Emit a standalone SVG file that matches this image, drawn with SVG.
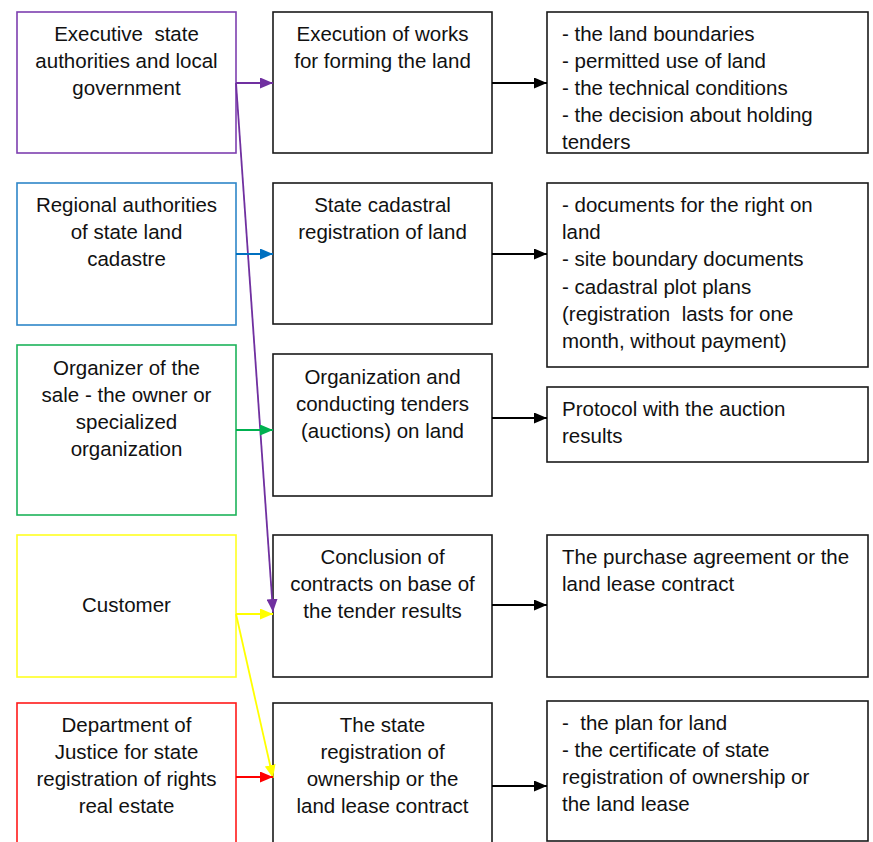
<svg xmlns="http://www.w3.org/2000/svg" width="873" height="842" viewBox="0 0 873 842" xml:space="preserve">
  <style>
    .box { fill: #ffffff; stroke-width: 1.6; }
    .mid, .out { stroke: #1a1a1a; }
    text { font-family: "Liberation Sans", Arial, sans-serif; font-size: 20.5px; fill: #111111; white-space: pre; }
    .c { text-anchor: middle; }
    .l { text-anchor: start; }
    .conn { fill: none; stroke-width: 1.8; }
  </style>
  <defs>
    <marker id="ah-black" viewBox="0 0 13 11" refX="13" refY="5.5" markerWidth="13" markerHeight="11" markerUnits="userSpaceOnUse" orient="auto">
      <path d="M0,0 L13,5.5 L0,11 Z" fill="#000000"/>
    </marker>
    <marker id="ah-purple" viewBox="0 0 13 11" refX="13" refY="5.5" markerWidth="13" markerHeight="11" markerUnits="userSpaceOnUse" orient="auto">
      <path d="M0,0 L13,5.5 L0,11 Z" fill="#7030A0"/>
    </marker>
    <marker id="ah-blue" viewBox="0 0 13 11" refX="13" refY="5.5" markerWidth="13" markerHeight="11" markerUnits="userSpaceOnUse" orient="auto">
      <path d="M0,0 L13,5.5 L0,11 Z" fill="#0070C0"/>
    </marker>
    <marker id="ah-green" viewBox="0 0 13 11" refX="13" refY="5.5" markerWidth="13" markerHeight="11" markerUnits="userSpaceOnUse" orient="auto">
      <path d="M0,0 L13,5.5 L0,11 Z" fill="#00B050"/>
    </marker>
    <marker id="ah-yellow" viewBox="0 0 13 11" refX="13" refY="5.5" markerWidth="13" markerHeight="11" markerUnits="userSpaceOnUse" orient="auto">
      <path d="M0,0 L13,5.5 L0,11 Z" fill="#FFFF00"/>
    </marker>
    <marker id="ah-red" viewBox="0 0 13 11" refX="13" refY="5.5" markerWidth="13" markerHeight="11" markerUnits="userSpaceOnUse" orient="auto">
      <path d="M0,0 L13,5.5 L0,11 Z" fill="#FF0000"/>
    </marker>
  </defs>

  <rect width="873" height="842" fill="#ffffff"/>

  <!-- Participants (left column) -->
  <g id="executive-authorities">
    <rect class="box" x="17" y="12" width="219" height="141" stroke="#7D3FB0"/>
    <text class="c" x="126.5" y="41">Executive  state</text>
    <text class="c" x="126.5" y="68">authorities and local</text>
    <text class="c" x="126.5" y="95">government</text>
  </g>
  <g id="regional-cadastre">
    <rect class="box" x="17" y="183" width="219" height="142" stroke="#2E86C8"/>
    <text class="c" x="126.5" y="212">Regional authorities</text>
    <text class="c" x="126.5" y="239">of state land</text>
    <text class="c" x="126.5" y="266">cadastre</text>
  </g>
  <g id="sale-organizer">
    <rect class="box" x="17" y="345" width="219" height="170" stroke="#1DB35A"/>
    <text class="c" x="126.5" y="375">Organizer of the</text>
    <text class="c" x="126.5" y="402">sale - the owner or</text>
    <text class="c" x="126.5" y="429">specialized</text>
    <text class="c" x="126.5" y="456">organization</text>
  </g>
  <g id="customer">
    <rect class="box" x="17" y="535" width="219" height="142" stroke="#FFFF22"/>
    <text class="c" x="126.5" y="612">Customer</text>
  </g>
  <g id="justice-department">
    <rect class="box" x="17" y="703" width="219" height="150" stroke="#FF1A1A"/>
    <text class="c" x="126.5" y="732">Department of</text>
    <text class="c" x="126.5" y="759">Justice for state</text>
    <text class="c" x="126.5" y="786">registration of rights</text>
    <text class="c" x="126.5" y="813">real estate</text>
  </g>

  <!-- Procedure steps (middle column) -->
  <g id="forming-works">
    <rect class="box mid" x="273" y="12" width="219" height="141"/>
    <text class="c" x="382.5" y="41">Execution of works</text>
    <text class="c" x="382.5" y="68">for forming the land</text>
  </g>
  <g id="cadastral-registration">
    <rect class="box mid" x="273" y="183" width="219" height="141"/>
    <text class="c" x="382.5" y="212">State cadastral</text>
    <text class="c" x="382.5" y="239">registration of land</text>
  </g>
  <g id="tenders">
    <rect class="box mid" x="273" y="354" width="219" height="142"/>
    <text class="c" x="382.5" y="384">Organization and</text>
    <text class="c" x="382.5" y="411">conducting tenders</text>
    <text class="c" x="382.5" y="438">(auctions) on land</text>
  </g>
  <g id="contracts">
    <rect class="box mid" x="273" y="535" width="219" height="142"/>
    <text class="c" x="382.5" y="564">Conclusion of</text>
    <text class="c" x="382.5" y="591">contracts on base of</text>
    <text class="c" x="382.5" y="618">the tender results</text>
  </g>
  <g id="state-registration">
    <rect class="box mid" x="273" y="703" width="219" height="150"/>
    <text class="c" x="382.5" y="732">The state</text>
    <text class="c" x="382.5" y="759">registration of</text>
    <text class="c" x="382.5" y="786">ownership or the</text>
    <text class="c" x="382.5" y="813">land lease contract</text>
  </g>

  <!-- Results (right column) -->
  <g id="forming-results">
    <rect class="box out" x="547" y="12" width="321" height="141"/>
    <text class="l" x="562" y="41">- the land boundaries</text>
    <text class="l" x="562" y="68">- permitted use of land</text>
    <text class="l" x="562" y="95">- the technical conditions</text>
    <text class="l" x="562" y="122">- the decision about holding</text>
    <text class="l" x="562" y="149">tenders</text>
  </g>
  <g id="cadastral-results">
    <rect class="box out" x="547" y="183" width="321" height="184"/>
    <text class="l" x="562" y="212">- documents for the right on</text>
    <text class="l" x="562" y="239">land</text>
    <text class="l" x="562" y="266">- site boundary documents</text>
    <text class="l" x="562" y="294">- cadastral plot plans</text>
    <text class="l" x="562" y="321">(registration  lasts for one</text>
    <text class="l" x="562" y="348">month, without payment)</text>
  </g>
  <g id="tender-results">
    <rect class="box out" x="547" y="387" width="321" height="75"/>
    <text class="l" x="562" y="416">Protocol with the auction</text>
    <text class="l" x="562" y="443">results</text>
  </g>
  <g id="contract-results">
    <rect class="box out" x="547" y="535" width="321" height="142"/>
    <text class="l" x="562" y="564">The purchase agreement or the</text>
    <text class="l" x="562" y="591">land lease contract</text>
  </g>
  <g id="registration-results">
    <rect class="box out" x="547" y="701" width="321" height="140"/>
    <text class="l" x="562" y="730">-  the plan for land</text>
    <text class="l" x="562" y="757">- the certificate of state</text>
    <text class="l" x="562" y="784">registration of ownership or</text>
    <text class="l" x="562" y="811">the land lease</text>
  </g>

  <!-- Connectors -->
  <g id="connectors">
    <line class="conn" x1="236" y1="83" x2="273" y2="83" stroke="#7030A0" marker-end="url(#ah-purple)"/>
    <line class="conn" x1="236" y1="83" x2="273" y2="612" stroke="#7030A0" marker-end="url(#ah-purple)"/>
    <line class="conn" x1="236" y1="254" x2="273" y2="254" stroke="#0070C0" marker-end="url(#ah-blue)"/>
    <line class="conn" x1="236" y1="430" x2="273" y2="430" stroke="#00B050" marker-end="url(#ah-green)"/>
    <line class="conn" x1="236" y1="614" x2="273" y2="614" stroke="#FFFF00" marker-end="url(#ah-yellow)"/>
    <line class="conn" x1="236" y1="614" x2="273" y2="778" stroke="#FFFF00" marker-end="url(#ah-yellow)"/>
    <line class="conn" x1="236" y1="777" x2="273" y2="777" stroke="#FF0000" marker-end="url(#ah-red)"/>

    <line class="conn" x1="492" y1="83" x2="547" y2="83" stroke="#000000" marker-end="url(#ah-black)"/>
    <line class="conn" x1="492" y1="254" x2="547" y2="254" stroke="#000000" marker-end="url(#ah-black)"/>
    <line class="conn" x1="492" y1="418" x2="547" y2="418" stroke="#000000" marker-end="url(#ah-black)"/>
    <line class="conn" x1="492" y1="605" x2="547" y2="605" stroke="#000000" marker-end="url(#ah-black)"/>
    <line class="conn" x1="492" y1="786" x2="547" y2="786" stroke="#000000" marker-end="url(#ah-black)"/>
  </g>
</svg>
